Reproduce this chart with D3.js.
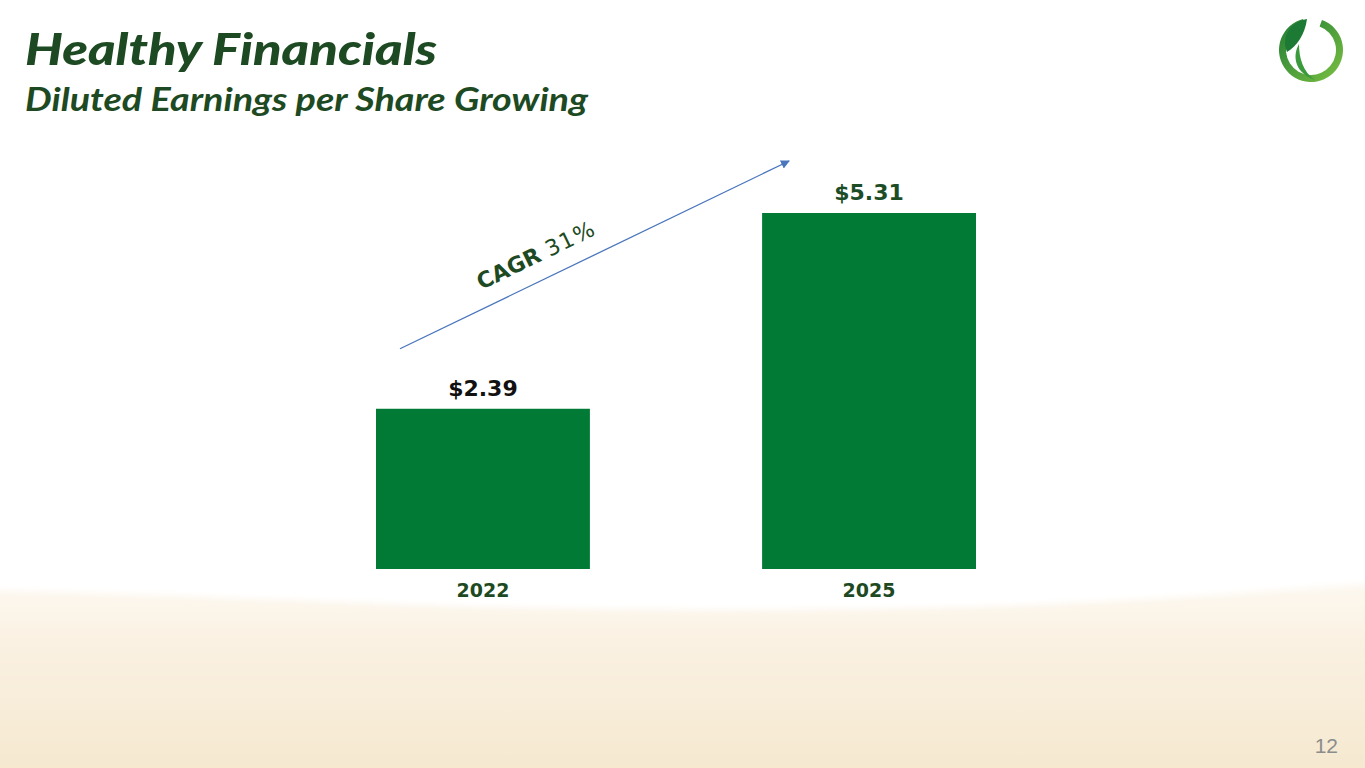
<!DOCTYPE html>
<html>
<head>
<meta charset="utf-8">
<script src="https://cdn.jsdelivr.net/npm/d3@7"></script>
<style>
  html, body { margin: 0; padding: 0; background: #fff; }
  svg { display: block; }
</style>
</head>
<body>
<svg id="chart" width="1365" height="768"></svg>
<script>
const years = ['2022', '2025'];
const eps = [2.39, 5.31];
const valueLabels = ['$2.39', '$5.31'];
const labelColors = ['#111111', '#1d4d26'];
const cagrBold = 'CAGR';
const cagrValue = '31%';
const titleText = 'Healthy Financials';
const subtitleText = 'Diluted Earnings per Share Growing';
const pageNumber = '12';

const width = 1365;
const height = 768;
const darkGreen = '#1d4a22';
const barGreen = '#017a36';
const svg = d3.select('#chart');
const defs = svg.append('defs');

// sandy background at the bottom, wavy top edge
const sand = defs.append('linearGradient').attr('id', 'sand').attr('x1', 0).attr('y1', 0).attr('x2', 0).attr('y2', 1);
sand.append('stop').attr('offset', '0%').attr('stop-color', '#fdf8f0');
sand.append('stop').attr('offset', '30%').attr('stop-color', '#faf1e2');
sand.append('stop').attr('offset', '100%').attr('stop-color', '#f5e7cd');
const blur = defs.append('filter').attr('id', 'soft').attr('x', '-5%').attr('y', '-10%').attr('width', '110%').attr('height', '120%');
blur.append('feGaussianBlur').attr('stdDeviation', 3);
const edge = [[-20, 590], [200, 596], [450, 608], [800, 612], [1100, 604], [1280, 590], [1400, 582]];
const edgeLine = d3.line().curve(d3.curveBasis);
svg.append('path')
  .attr('d', edgeLine(edge) + `L1400,${height + 20}L-20,${height + 20}Z`)
  .attr('fill', 'url(#sand)')
  .attr('filter', 'url(#soft)');

// title block
svg.append('text')
  .attr('x', 25).attr('y', 65)
  .attr('textLength', 412).attr('lengthAdjust', 'spacingAndGlyphs')
  .style('font-family', 'Lato, sans-serif').style('font-weight', 900).style('font-style', 'italic')
  .style('font-size', '44px').attr('fill', darkGreen)
  .text(titleText);
svg.append('text')
  .attr('x', 25).attr('y', 111)
  .attr('textLength', 563).attr('lengthAdjust', 'spacingAndGlyphs')
  .style('font-family', 'Lato, sans-serif').style('font-weight', 700).style('font-style', 'italic')
  .style('font-size', '32px').attr('fill', darkGreen)
  .text(subtitleText);

// logo
const logo = svg.append('g').attr('transform', 'translate(1311,50)');
const ringGrad = defs.append('linearGradient').attr('id', 'ring').attr('x1', 0).attr('y1', 0).attr('x2', 1).attr('y2', 1);
ringGrad.append('stop').attr('offset', '0%').attr('stop-color', '#1f7a35');
ringGrad.append('stop').attr('offset', '100%').attr('stop-color', '#7cc242');
logo.append('path')
  .attr('d', d3.arc().innerRadius(25).outerRadius(32).startAngle(0.35).endAngle(2 * Math.PI - 0.25)())
  .attr('fill', 'url(#ring)');
logo.append('path')
  .attr('d', 'M-4,-31 C-22,-28 -30,-12 -24,2 C-14,-4 -6,-16 -4,-31 Z')
  .attr('fill', '#1c7a34');
logo.append('path')
  .attr('d', 'M-12,-6 C-20,8 -14,24 4,30 C-8,22 -12,8 -12,-6 Z')
  .attr('fill', '#3a9a3c');

// bar chart
const x = d3.scaleBand().domain(years).range([376, 976]).paddingInner(0.446).paddingOuter(0);
const y = d3.scaleLinear().domain([0, d3.max(eps)]).range([569, 213]);

svg.append('g').selectAll('rect')
  .data(eps)
  .join('rect')
  .attr('x', (d, i) => x(years[i]))
  .attr('y', d => y(d))
  .attr('width', x.bandwidth())
  .attr('height', d => y(0) - y(d))
  .attr('fill', barGreen);

svg.append('g').selectAll('text')
  .data(eps)
  .join('text')
  .attr('x', (d, i) => x(years[i]) + x.bandwidth() / 2)
  .attr('y', d => y(d) - 13)
  .attr('text-anchor', 'middle')
  .style('font-family', '"DejaVu Sans", Verdana, sans-serif').style('font-weight', 700)
  .style('font-size', '22px')
  .attr('fill', (d, i) => labelColors[i])
  .text((d, i) => valueLabels[i]);

const xAxis = svg.append('g').attr('transform', `translate(0,${y(0)})`)
  .call(d3.axisBottom(x).tickSize(0).tickPadding(15));
xAxis.select('.domain').remove();
xAxis.selectAll('text')
  .attr('dy', '0.71em')
  .style('font-family', '"DejaVu Sans", Verdana, sans-serif').style('font-weight', 700)
  .style('font-size', '19px').attr('fill', darkGreen);

// CAGR arrow
const x0 = x(years[0]) + 24;
const y0 = y(eps[0]) - 60;
const x1 = x(years[1]) + 27;
const y1 = y(eps[1]) - 52;
defs.append('marker').attr('id', 'arrowhead')
  .attr('viewBox', '0 0 10 10').attr('refX', 9).attr('refY', 5)
  .attr('markerWidth', 9).attr('markerHeight', 9).attr('orient', 'auto')
  .attr('markerUnits', 'userSpaceOnUse')
  .append('path').attr('d', 'M0,0 L10,5 L0,10 Z').attr('fill', '#4a76bd');
svg.append('line')
  .attr('x1', x0).attr('y1', y0).attr('x2', x1).attr('y2', y1)
  .attr('stroke', '#4a76bd').attr('stroke-width', 1.3)
  .attr('marker-end', 'url(#arrowhead)');

const angle = Math.atan2(y1 - y0, x1 - x0) * 180 / Math.PI;
const cagr = svg.append('text')
  .attr('transform', `translate(${(x0 + x1) / 2 - 55},${(y0 + y1) / 2 + 7}) rotate(${angle})`)
  .attr('text-anchor', 'middle')
  .style('font-family', '"DejaVu Sans", Verdana, sans-serif')
  .style('font-size', '22px').attr('fill', darkGreen);
cagr.append('tspan').style('font-weight', 700).text(cagrBold + ' ');
cagr.append('tspan').style('font-weight', 400).attr('letter-spacing', '1.5px').text(cagrValue);

// page number
svg.append('text')
  .attr('x', 1338).attr('y', 753)
  .attr('text-anchor', 'end')
  .style('font-family', '"Liberation Sans", Arial, sans-serif')
  .style('font-size', '21px').attr('fill', '#8c8c8c')
  .text(pageNumber);
</script>
</body>
</html>
